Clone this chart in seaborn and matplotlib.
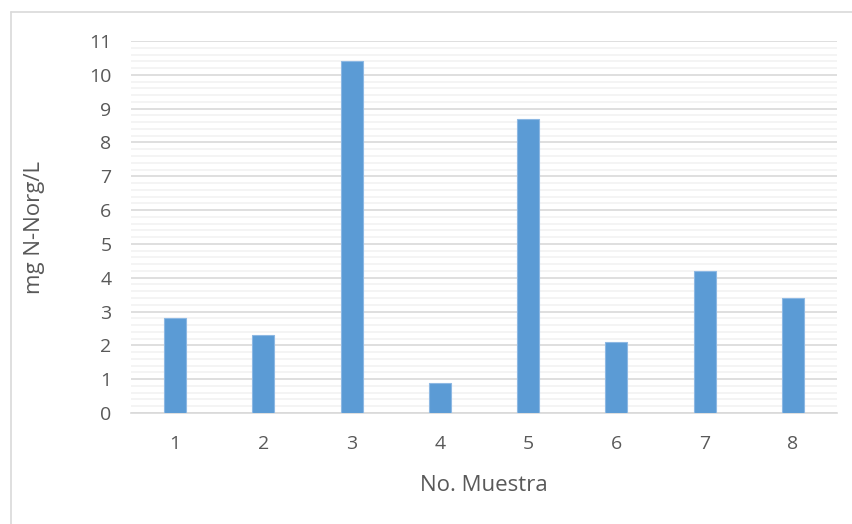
import matplotlib
matplotlib.use("Agg")
import matplotlib.pyplot as plt
import seaborn as sns
import pandas as pd
from matplotlib.lines import Line2D
from matplotlib.ticker import MultipleLocator

muestras = ["1", "2", "3", "4", "5", "6", "7", "8"]
valores = [2.8, 2.3, 10.4, 0.9, 8.7, 2.1, 4.2, 3.4]

df = pd.DataFrame({"muestra": muestras, "valor": valores})

sns.set_style("white")
plt.rcParams["font.family"] = ["Open Sans", "DejaVu Sans"]

fig = plt.figure(figsize=(8.52, 5.24), dpi=100)
ax = fig.add_axes([131/852, 1 - 413/524, (837-131)/852, (413-41)/524])

sns.barplot(data=df, x="muestra", y="valor", color="#5B9BD5", width=0.25,
            edgecolor="#8DB8E3", linewidth=0.8, ax=ax, zorder=3, saturation=1)

ax.set_ylim(0, 11)
ax.set_xlim(-0.5, 7.5)
ax.yaxis.set_major_locator(MultipleLocator(1))
ax.yaxis.set_minor_locator(MultipleLocator(0.2))
ax.grid(which="major", axis="y", color="#D9D9D9", linewidth=1.2, zorder=0)
ax.grid(which="minor", axis="y", color="#F2F2F2", linewidth=1.2, zorder=0)
ax.set_axisbelow(True)
for s in ["top", "right", "left"]:
    ax.spines[s].set_visible(False)
ax.spines["bottom"].set_color("#D9D9D9")
ax.spines["bottom"].set_linewidth(1.2)
ax.tick_params(axis="both", which="both", length=0, labelsize=14, labelcolor="#595959")
ax.tick_params(axis="x", pad=16)
ax.tick_params(axis="y", pad=14)

ax.set_xlabel("No. Muestra", fontsize=16, color="#595959")
ax.set_ylabel("mg N-Norg/L", fontsize=16, color="#595959")
ax.xaxis.set_label_coords(0.5, -0.168)
ax.yaxis.set_label_coords(-0.122, 0.5)

fig.add_artist(Line2D([11/852, 11/852], [0, 1 - 12/524], transform=fig.transFigure,
                      color="#D9D9D9", linewidth=1.2))
fig.add_artist(Line2D([11/852, 1], [1 - 12/524, 1 - 12/524], transform=fig.transFigure,
                      color="#D9D9D9", linewidth=1.2))

fig.savefig("out.png", dpi=100)
